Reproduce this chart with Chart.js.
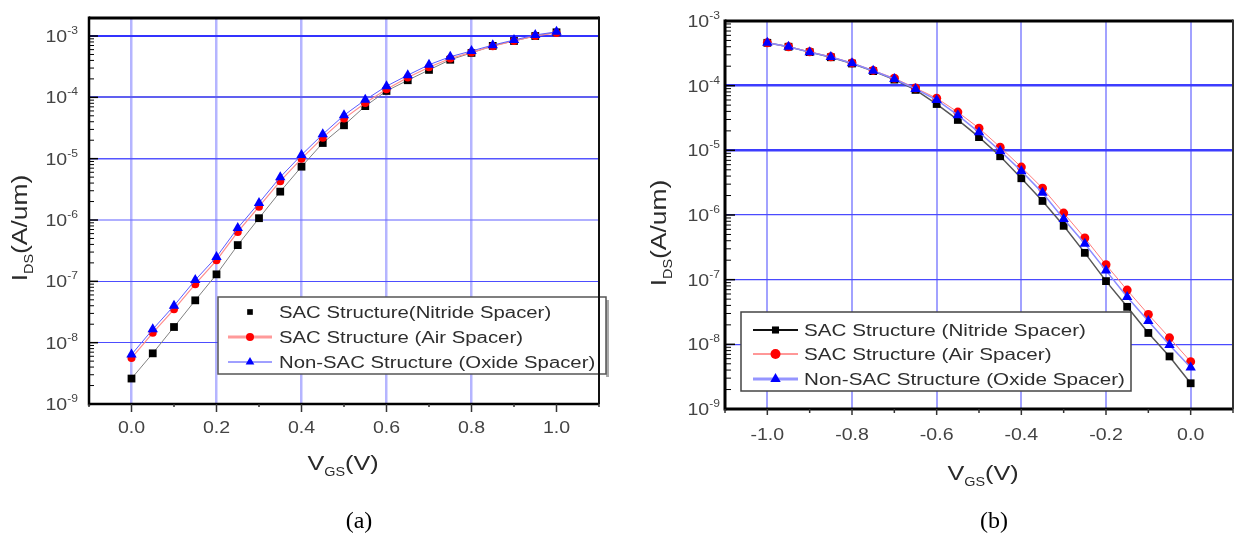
<!DOCTYPE html>
<html>
<head>
<meta charset="utf-8">
<script src="https://cdn.jsdelivr.net/npm/chart.js@4.4.1/dist/chart.umd.min.js"></script>
<style>
  html, body { margin: 0; padding: 0; background: #fff; }
  #wrap { position: relative; width: 1239px; height: 535px; overflow: hidden; }
  canvas { position: absolute; top: 0; }
  #ca { left: 0; }
  #cb { left: 620px; }
</style>
</head>
<body>
<div id="wrap">
  <canvas id="ca" width="620" height="535"></canvas>
  <canvas id="cb" width="619" height="535"></canvas>
</div>
<script>
// ---- data ----
const vgsA = [0, 0.05, 0.1, 0.15, 0.2, 0.25, 0.3, 0.35, 0.4, 0.45, 0.5, 0.55, 0.6, 0.65, 0.7, 0.75, 0.8, 0.85, 0.9, 0.95, 1.0];
const nitrideA = [2.6e-9, 6.7e-9, 1.8e-8, 4.9e-8, 1.3e-7, 3.9e-7, 1.07e-6, 2.9e-6, 7.4e-6, 1.8e-5, 3.5e-5, 7.2e-5, 1.27e-4, 1.9e-4, 2.8e-4, 4.1e-4, 5.3e-4, 6.9e-4, 8.3e-4, 1.0e-3, 1.15e-3];
const airA = [5.6e-9, 1.45e-8, 3.5e-8, 9.0e-8, 2.2e-7, 6.4e-7, 1.65e-6, 4.3e-6, 1.0e-5, 2.2e-5, 4.5e-5, 8.1e-5, 1.35e-4, 2.1e-4, 3.1e-4, 4.3e-4, 5.4e-4, 6.8e-4, 8.3e-4, 1.0e-3, 1.12e-3];
const oxideA = [6.4e-9, 1.65e-8, 4.0e-8, 1.05e-7, 2.5e-7, 7.4e-7, 1.9e-6, 5.0e-6, 1.15e-5, 2.5e-5, 5.1e-5, 9.1e-5, 1.52e-4, 2.3e-4, 3.4e-4, 4.6e-4, 5.7e-4, 7.1e-4, 8.6e-4, 1.04e-3, 1.17e-3];
const namesA = ['SAC Structure(Nitride Spacer)', 'SAC Structure (Air Spacer)', 'Non-SAC Structure (Oxide Spacer)'];

const vgsB = [-1.0, -0.95, -0.9, -0.85, -0.8, -0.75, -0.7, -0.65, -0.6, -0.55, -0.5, -0.45, -0.4, -0.35, -0.3, -0.25, -0.2, -0.15, -0.1, -0.05, 0];
const nitrideB = [4.6e-4, 4.0e-4, 3.3e-4, 2.75e-4, 2.2e-4, 1.68e-4, 1.24e-4, 8.6e-5, 5.2e-5, 2.95e-5, 1.6e-5, 8.1e-6, 3.7e-6, 1.65e-6, 6.8e-7, 2.6e-7, 9.5e-8, 3.8e-8, 1.5e-8, 6.5e-9, 2.5e-9];
const airB = [4.6e-4, 4.0e-4, 3.35e-4, 2.8e-4, 2.25e-4, 1.72e-4, 1.3e-4, 9.2e-5, 6.4e-5, 3.9e-5, 2.2e-5, 1.12e-5, 5.5e-6, 2.6e-6, 1.07e-6, 4.4e-7, 1.7e-7, 6.9e-8, 2.9e-8, 1.26e-8, 5.4e-9];
const oxideB = [4.6e-4, 4.0e-4, 3.3e-4, 2.78e-4, 2.22e-4, 1.7e-4, 1.27e-4, 8.9e-5, 6.0e-5, 3.5e-5, 1.9e-5, 9.8e-6, 4.8e-6, 2.2e-6, 8.7e-7, 3.6e-7, 1.38e-7, 5.4e-8, 2.3e-8, 9.8e-9, 4.4e-9];
const namesB = ['SAC Structure (Nitride Spacer)', 'SAC Structure (Air Spacer)', 'Non-SAC Structure (Oxide Spacer)'];

const xLabelStep = 0.2;
const captions = ['(a)', '(b)'];

const sans = '"Liberation Sans", Arial, sans-serif';
const serif = '"Liberation Serif", "Times New Roman", serif';

function isDecade(v) { const l = Math.log10(v); return Math.abs(l - Math.round(l)) < 1e-6; }
function isStep(v, s) { const q = v / s; return Math.abs(q - Math.round(q)) < 1e-6; }
function isIntSig(v) { const s = v / Math.pow(10, Math.floor(Math.log10(v) + 1e-9)); return Math.abs(s - Math.round(s)) < 1e-6; }

// text with horizontal stretch, optional sub/superscript parts
function drawRich(ctx, parts, x, y, sx, align, color) {
  ctx.save();
  ctx.fillStyle = color;
  ctx.textBaseline = 'alphabetic';
  ctx.textAlign = 'left';
  let total = 0;
  parts.forEach(p => {
    ctx.font = p.size + 'px ' + (p.family || sans);
    p.w = ctx.measureText(p.t).width * (p.sx || sx);
    total += p.w;
  });
  let cx = align === 'center' ? x - total / 2 : align === 'right' ? x - total : x;
  parts.forEach(p => {
    ctx.save();
    ctx.font = p.size + 'px ' + (p.family || sans);
    ctx.translate(cx, y + (p.dy || 0));
    ctx.scale(p.sx || sx, 1);
    ctx.fillText(p.t, 0, 0);
    ctx.restore();
    cx += p.w;
  });
  ctx.restore();
  return total;
}

function line(ctx, x1, y1, x2, y2, color, w) {
  ctx.save();
  ctx.strokeStyle = color; ctx.lineWidth = w;
  ctx.beginPath(); ctx.moveTo(x1, y1); ctx.lineTo(x2, y2); ctx.stroke();
  ctx.restore();
}

const panels = [
  {
    canvas: 'ca', caption: captions[0], vgs: vgsA, series: [nitrideA, airA, oxideA], names: namesA,
    pad: { left: 89, top: 18, right: 21, bottom: 131 },
    xMin: -0.1, xMax: 1.1, yMin: 1e-9, yMax: 1.966e-3, xGridMax: 0.85,
    lineColors: ['#808080', '#ff8c8c', '#5a5aff'], lineWidths: [1, 1.2, 1],
    pointRadius: [5.5, 4, 6],
    yGrid: { '-3': ['#3333ff', 2], '-4': ['#6060f0', 2], '-5': ['#5555ff', 1.5], '-6': ['rgba(110,110,255,0.55)', 2], '-7': ['#4d4dff', 1], '-8': ['#4d4dff', 1] },
    xGrid: ['rgba(120,120,255,0.55)', 2.5],
    frame: { left: 2.5, top: 3, right: 2, bottom: 2.5, rightColor: '#111' },
    yTick: [9, 5], xTick: [8, 3],
    yLabelRight: 78, xLabelBase: 433, labelSize: 17, labelSx: 1.15,
    xTitle: [343, 470], yTitle: [27, 228],
    legend: { box: [218, 297, 606, 374], rows: [318, 343, 368], sym: [228, 272], textX: 279, size: 16, sx: 1.27, border: '#555', shadow: true,
      symLines: [null, ['#ff9a9a', 3], ['#4040ff', 1]], symR: [4, 4, 5] },
    capX: 359
  },
  {
    canvas: 'cb', caption: captions[1], vgs: vgsB, series: [nitrideB, airB, oxideB], names: namesB,
    pad: { left: 105, top: 21, right: 2, bottom: 126 },
    xMin: -1.1, xMax: 0.1, yMin: 1e-9, yMax: 1e-3, xGridMax: 0.05,
    lineColors: ['#555555', '#ff7b7b', '#8a8aff'], lineWidths: [1.5, 1, 1.5],
    pointRadius: [5.5, 4.5, 6],
    yGrid: { '-4': ['#3d3dff', 2.5], '-5': ['#3d3dff', 2.5], '-6': ['#4a4aff', 1.2], '-7': ['#4a4aff', 1.2], '-8': ['#4a4aff', 1.2] },
    xGrid: ['rgba(100,100,255,0.6)', 2],
    frame: { left: 3, top: 3, right: 2, bottom: 3, rightColor: '#333' },
    yTick: [10, 6], xTick: [6, 4],
    yLabelRight: 100, xLabelBase: 440, labelSize: 17, labelSx: 1.15,
    xTitle: [363, 480], yTitle: [46, 233],
    legend: { box: [121, 312, 511, 391], rows: [336, 360, 385], sym: [133, 178], textX: 184, size: 16.5, sx: 1.25, border: '#444', shadow: false,
      symLines: [['#111', 2], ['#ff3030', 1], ['#9595ff', 3]], symR: [5, 5, 6] },
    capX: 374
  }
];

const pointStyles = ['rect', 'circle', 'triangle'];
const pointColors = ['#000000', '#ff0000', '#0000ff'];

const decor = {
  id: 'decor',
  afterDraw(chart, args, opts) {
    const p = opts.panel;
    const ctx = chart.ctx;
    const a = chart.chartArea;
    const xs = chart.scales.x, ys = chart.scales.y;

    // legend
    const L = p.legend;
    const [bx1, by1, bx2, by2] = L.box;
    ctx.save();
    if (L.shadow) { ctx.fillStyle = '#aaa'; ctx.fillRect(bx2, by1 + 3, 3, by2 - by1); }
    ctx.fillStyle = '#fff';
    ctx.fillRect(bx1, by1, bx2 - bx1, by2 - by1);
    ctx.strokeStyle = L.border; ctx.lineWidth = 1.5;
    ctx.strokeRect(bx1, by1, bx2 - bx1, by2 - by1);
    ctx.restore();
    p.names.forEach((name, i) => {
      const cy = L.rows[i] - 6;
      const sl = L.symLines[i];
      if (sl) line(ctx, L.sym[0], cy, L.sym[1], cy, sl[0], sl[1]);
      ctx.save();
      ctx.fillStyle = pointColors[i]; ctx.strokeStyle = pointColors[i];
      Chart.helpers.drawPoint(ctx, { pointStyle: pointStyles[i], radius: L.symR[i], rotation: 0, borderWidth: 0 }, (L.sym[0] + L.sym[1]) / 2, cy);
      ctx.restore();
      drawRich(ctx, [{ t: name, size: L.size }], L.textX, L.rows[i], L.sx, 'left', '#2e2e2e');
    });

    // frame
    const f = p.frame;
    line(ctx, a.left, a.top, a.right, a.top, '#000', f.top);
    line(ctx, a.left, a.bottom, a.right, a.bottom, '#000', f.bottom);
    line(ctx, a.right, a.top - 1.5, a.right, a.bottom, f.rightColor, f.right);
    line(ctx, a.left, a.top - 1.5, a.left, a.bottom + 1.5, '#000', f.left);

    // y ticks (inward) and labels
    ys.ticks.forEach(t => {
      const v = t.value;
      if (v < p.yMin * 0.999 || v > p.yMax * 1.001 || !isIntSig(v)) return;
      const y = ys.getPixelForValue(v);
      const major = isDecade(v);
      line(ctx, a.left, y, a.left + (major ? p.yTick[0] : p.yTick[1]), y, '#000', major ? 1.5 : 1);
      if (major) {
        const e = Math.round(Math.log10(v));
        drawRich(ctx, [
          { t: '10', size: p.labelSize, sx: p.labelSx },
          { t: String(e), size: 11, sx: 1.1, dy: -8 }
        ], p.yLabelRight, y + 6, 1, 'right', '#444');
      }
    });

    // x ticks (outward) and labels
    xs.ticks.forEach(t => {
      const v = t.value;
      if (!isStep(v, 0.1)) return;
      const x = xs.getPixelForValue(v);
      const major = isStep(v, xLabelStep);
      line(ctx, x, a.bottom, x, a.bottom + (major ? p.xTick[0] : p.xTick[1]), '#333', 1.5);
      if (major && v > p.xMin + 0.01 && v < p.xMax - 0.01) {
        const s = Math.abs(v) < 1e-9 ? '0.0' : v.toFixed(1);
        drawRich(ctx, [{ t: s, size: p.labelSize }], x, p.xLabelBase, p.labelSx, 'center', '#444');
      }
    });

    // axis titles
    drawRich(ctx, [
      { t: 'V', size: 21 },
      { t: 'GS', size: 12, dy: 6 },
      { t: '(V)', size: 21 }
    ], p.xTitle[0], p.xTitle[1], 1.2, 'center', '#2a2a2a');
    ctx.save();
    ctx.translate(p.yTitle[0], p.yTitle[1]);
    ctx.rotate(-Math.PI / 2);
    drawRich(ctx, [
      { t: 'I', size: 22 },
      { t: 'DS', size: 12, dy: 6 },
      { t: '(A/um)', size: 22 }
    ], 0, 0, 1.2, 'center', '#2a2a2a');
    ctx.restore();

    // caption
    drawRich(ctx, [{ t: p.caption, size: 24, family: serif }], p.capX, 528, 1, 'center', '#000');
  }
};

panels.forEach(p => {
  const order = [3, 2, 1];
  const datasets = p.series.map((vals, i) => ({
    label: p.names[i],
    data: vals.map((v, k) => ({ x: p.vgs[k], y: v })),
    borderColor: p.lineColors[i],
    borderWidth: p.lineWidths[i],
    pointStyle: pointStyles[i],
    pointRadius: p.pointRadius[i],
    pointBackgroundColor: pointColors[i],
    pointBorderColor: pointColors[i],
    pointBorderWidth: 0,
    tension: 0,
    fill: false,
    order: order[i]
  }));

  new Chart(document.getElementById(p.canvas), {
    type: 'line',
    data: { datasets },
    options: {
      responsive: false,
      animation: false,
      devicePixelRatio: 1,
      layout: { padding: p.pad },
      plugins: { legend: { display: false }, tooltip: { enabled: false }, decor: { panel: p } },
      scales: {
        x: {
          type: 'linear', min: p.xMin, max: p.xMax,
          ticks: { display: false, stepSize: 0.1, autoSkip: false },
          border: { display: false },
          grid: {
            drawTicks: false,
            color: c => {
              const v = c.tick.value;
              return (isStep(v, xLabelStep) && v > p.xMin + 0.01 && v < p.xGridMax) ? p.xGrid[0] : 'rgba(0,0,0,0)';
            },
            lineWidth: p.xGrid[1]
          }
        },
        y: {
          type: 'logarithmic', min: p.yMin, max: p.yMax,
          ticks: { display: false, autoSkip: false },
          border: { display: false },
          grid: {
            drawTicks: false,
            color: c => {
              const v = c.tick.value;
              if (!isDecade(v)) return 'rgba(0,0,0,0)';
              const g = p.yGrid[String(Math.round(Math.log10(v)))];
              return g ? g[0] : 'rgba(0,0,0,0)';
            },
            lineWidth: c => {
              const v = c.tick.value;
              if (!isDecade(v)) return 0;
              const g = p.yGrid[String(Math.round(Math.log10(v)))];
              return g ? g[1] : 0;
            }
          }
        }
      }
    },
    plugins: [decor]
  });
});
</script>
</body>
</html>
